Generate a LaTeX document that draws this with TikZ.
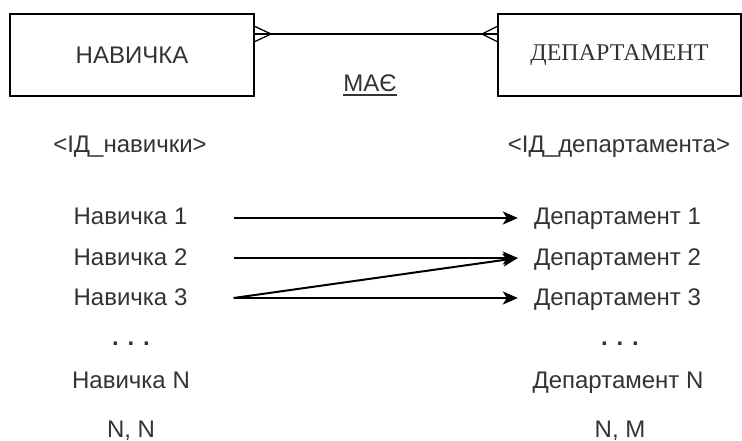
\documentclass[tikz,border=0pt]{standalone}
\usepackage{fontspec}
\setmainfont{Liberation Sans}
\newfontfamily\entityserif{Liberation Serif}
\usetikzlibrary{arrows.meta}
\definecolor{txt}{HTML}{333333}
\begin{document}
\begin{tikzpicture}[x=1pt,y=-1pt,
  font=\fontsize{24}{28}\selectfont,
  entity/.style={draw=black, line width=2pt, minimum height=82pt, inner sep=0pt, text=txt},
  lbl/.style={anchor=base, inner sep=0pt, text=txt},
  rel/.style={line width=1.5pt},
  foot/.style={line width=1.3pt},
  link/.style={line width=2pt, -{Stealth[length=15pt,width=13pt,inset=4pt]}}]
\useasboundingbox (0,0) rectangle (742,441);

% entities
\node[entity, minimum width=244pt] (nav) at (132,55) {НАВИЧКА};
\node[entity, minimum width=243pt, font=\fontsize{24}{28}\selectfont\entityserif] (dep) at (619.5,55) {ДЕПАРТАМЕНТ};

% many-to-many relationship
\coordinate (la) at ([yshift=21pt]nav.east);
\coordinate (ra) at ([yshift=21pt]dep.west);
\draw[rel] (la) -- (ra);
\draw[foot] ([yshift=7.5pt]la) -- ([xshift=16pt]la) -- ([yshift=-7.5pt]la);
\draw[foot] ([yshift=7.5pt]ra) -- ([xshift=-15pt]ra) -- ([yshift=-7.5pt]ra);
\node[lbl] (has) at (370,92) {МАЄ};
\draw[line width=1.5pt, txt] ([yshift=-3pt]has.base west) -- ([yshift=-3pt]has.base east);

% key headers
\node[lbl] (kn) at (130,153) {<ІД\_навички>};
\node[lbl] (kd) at (619,153) {<ІД\_департамента>};

% instances
\node[lbl] (n1) at (130.5,225) {Навичка 1};
\node[lbl] (n2) at (130.5,265) {Навичка 2};
\node[lbl] (n3) at (130.5,305) {Навичка 3};
\node[lbl, font=\fontsize{24}{28}\selectfont\bfseries] (nd) at (131,345) {. . .};
\node[lbl] (nn) at (131,388) {Навичка N};
\node[lbl] (nc) at (131,437) {N, N};

\node[lbl] (d1) at (617.5,225) {Департамент 1};
\node[lbl] (d2) at (617.5,265) {Департамент 2};
\node[lbl] (d3) at (617.5,305) {Департамент 3};
\node[lbl, font=\fontsize{24}{28}\selectfont\bfseries] (dd) at (620,345) {. . .};
\node[lbl] (dn) at (618,388) {Департамент N};
\node[lbl] (dc) at (620,437) {N, M};

% mappings
\draw[link] ([xshift=46pt,yshift=7pt]n1.base east) -- ([xshift=-16pt,yshift=7pt]d1.base west);
\draw[link] ([xshift=46pt,yshift=7pt]n2.base east) -- ([xshift=-16pt,yshift=7pt]d2.base west);
\draw[link] ([xshift=46pt,yshift=7pt]n3.base east) -- ([xshift=-16pt,yshift=7pt]d3.base west);
\draw[link] ([xshift=46pt,yshift=7pt]n3.base east) -- ([xshift=-16pt,yshift=7pt]d2.base west);
\end{tikzpicture}
\end{document}
